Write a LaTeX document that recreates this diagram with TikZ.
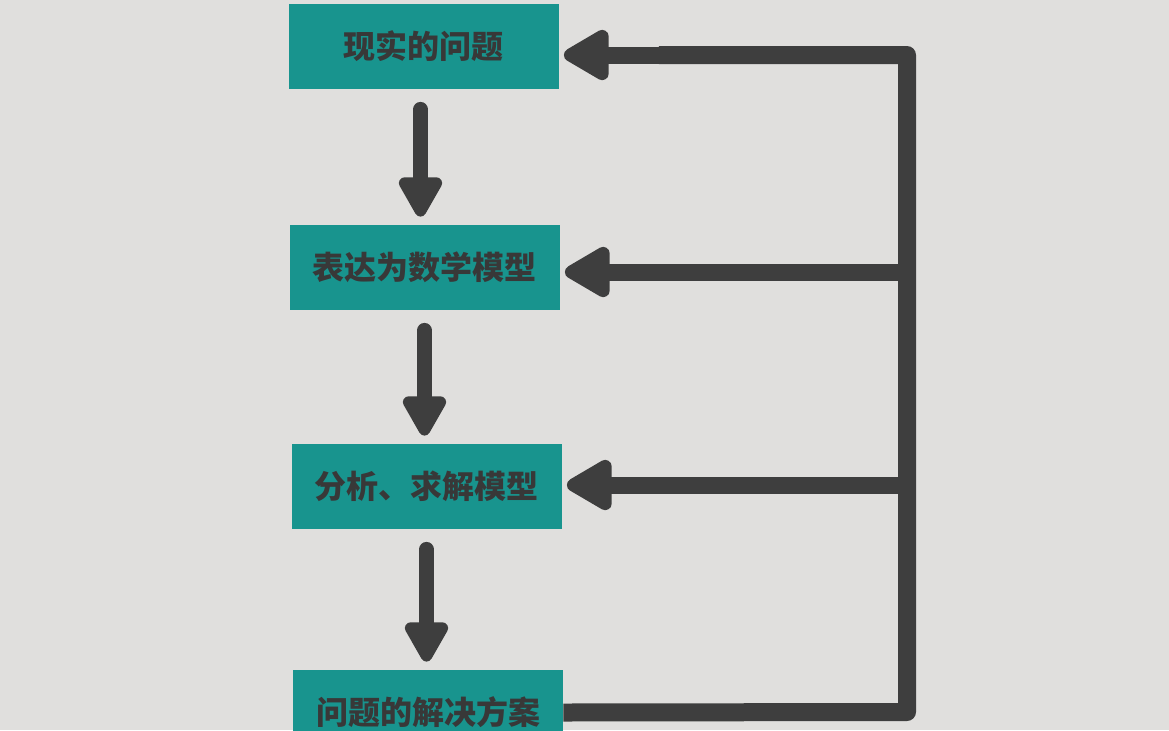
\documentclass[tikz,border=0pt]{standalone}
\usepackage{fontspec}
\newfontfamily\cjk{Noto Sans CJK SC}
\usetikzlibrary{arrows.meta}
\definecolor{bgcol}{HTML}{E0DFDD}
\definecolor{boxcol}{HTML}{18948E}
\definecolor{linecol}{HTML}{3E3E3E}
\definecolor{textcol}{HTML}{383838}
\tikzset{
  stepbox/.style={rectangle, fill=boxcol, draw=none, minimum width=135pt, minimum height=42.5pt,
    inner sep=0pt, text=textcol, font=\cjk\bfseries\fontsize{16}{18}\selectfont},
  downarrow/.style={draw=linecol, line width=7.5pt, line cap=round,
    -{Triangle[width=24pt, length=23pt, round]}, shorten <=10pt, shorten >=4pt},
  backarrow/.style={draw=linecol, line width=8.5pt,
    -{Triangle[width=28pt, length=26pt, round]}, shorten >=2.5pt},
  loopline/.style={draw=linecol, line width=9pt, line join=round}
}
\newcommand{\stepnode}[4]{\node[stepbox] (#1) at (#2,#3) {#4};}
\begin{document}
\begin{tikzpicture}[x=0.5pt,y=-0.5pt]
  \fill[bgcol] (0,0) rectangle (1169,730);
  \useasboundingbox (0,0) rectangle (1169,730);

  % steps
  \stepnode{real}{423.5}{46.5}{现实的问题}
  \stepnode{model}{424.5}{267.5}{表达为数学模型}
  \stepnode{solve}{426.5}{486.5}{分析、求解模型}
  \stepnode{answer}{428}{712.5}{问题的解决方案}

  % down arrows
  \draw[downarrow] ([xshift=-1.5pt]real.south) -- ([xshift=-1.5pt]real.south |- model.north);
  \draw[downarrow] (model.south) -- (model.south |- solve.north);
  \draw[downarrow] (solve.south) -- (solve.south |- answer.north);

  % feedback loop
  \coordinate (looptop) at (907,55);
  \coordinate (loopmid) at (907,272);
  \coordinate (looplow) at (907,485);
  \coordinate (loopbot) at (907,712);
  \draw[loopline] (answer.east) -- (loopbot) -- (looptop) -- ([xshift=50]looptop -| real.east);
  \draw[backarrow] (looptop) -- (looptop -| real.east);
  \draw[backarrow] (loopmid) -- (loopmid -| model.east);
  \draw[backarrow] (looplow) -- (looplow -| solve.east);
\end{tikzpicture}
\end{document}
